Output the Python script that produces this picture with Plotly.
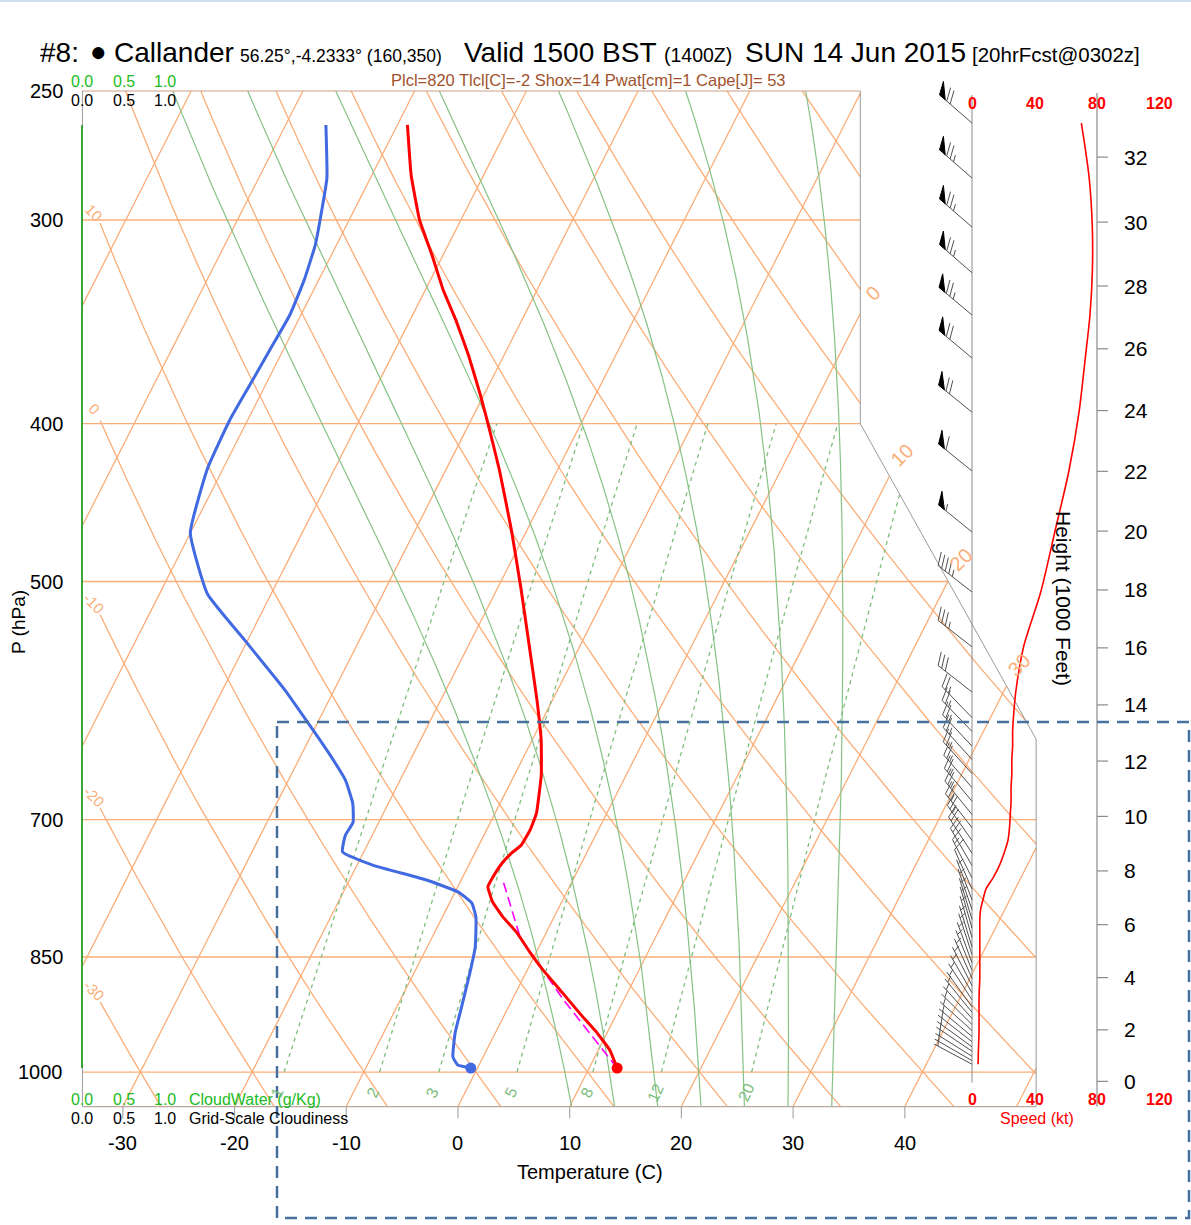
import numpy as np
import plotly.graph_objects as go

W, H = 1191, 1225
FONT = "Liberation Sans, Arial, sans-serif"

# ---------------- data ----------------
temp_p = [262.3, 281.5, 300.0, 315.2, 331.2, 345.6, 363.0, 384.2, 403.6, 427.1,
          464.9, 506.0, 550.8, 591.0, 625.5, 657.2, 693.5, 710.3, 725.5, 733.7,
          744.2, 760.1, 769.8, 786.3, 803.1, 821.5, 845.0, 865.6, 894.2, 925.0,
          946.1, 969.1, 994.4]
temp_c = [-49.1, -46.5, -43.7, -41.0, -38.4, -35.9, -33.2, -30.3, -27.9, -25.2,
          -21.4, -17.8, -14.3, -11.4, -9.2, -7.6, -6.3, -6.1, -6.2, -6.7,
          -7.1, -7.3, -7.3, -6.2, -4.6, -2.6, -0.5, 1.4, 4.2, 7.1,
          9.1, 11.0, 12.5]
dewp_p = [262.3, 282.7, 295.8, 310.8, 326.6, 343.1, 360.5, 378.8, 398.0, 425.9,
          466.9, 508.9, 543.0, 582.9, 612.5, 639.0, 662.0, 683.9, 702.6, 715.6,
          732.6, 746.4, 762.4, 775.5, 787.6, 803.3, 838.1, 869.4, 912.1, 946.2,
          979.0, 990.2, 994.4]
dewp_c = [-56.4, -53.9, -52.9, -51.9, -51.3, -51.0, -51.2, -51.4, -51.6, -51.4,
          -50.0, -45.7, -40.3, -34.4, -30.6, -27.4, -24.9, -23.2, -22.3, -22.4,
          -21.9, -18.6, -13.1, -9.7, -8.0, -7.0, -5.7, -5.0, -4.2, -3.6,
          -2.7, -1.9, -0.6]
parcel_p = [994.4, 903.0, 827.0, 762.0]
parcel_c = [12.5, 4.6, -2.1, -6.3]

wind_p = [261.6, 282.7, 303.0, 323.2, 343.1, 364.6, 393.6, 427.7, 466.2, 507.5, 548.4, 584.5,
          606, 618, 631, 643, 656, 669, 682, 695, 708,
          721, 734, 747, 760,
          772, 784, 795, 806, 816,
          827, 838, 847, 857, 866, 876, 885, 894, 903,
          912, 919, 927, 935, 943, 951, 958, 965, 971, 978, 984, 989]
wind_spd = [70, 75, 77, 77, 75.5, 72.5, 68.5, 62, 53, 44, 33, 28,
            26.5, 26, 26, 25.5, 25.5, 25, 25, 24.5, 24,
            23, 20.5, 17.5, 13.5,
            9, 7, 5.5, 5, 5,
            5, 5, 5, 5, 5, 5, 4.8, 4.6, 4.5,
            4.5, 4.5, 4.5, 4.5, 4.5, 4.4, 4.3, 4.2, 4.1, 4, 4, 3.8]
wind_dir = [311, 311, 311, 311, 310, 310, 309, 309, 309, 308, 308, 308,
            316, 316, 317, 318, 318, 319, 320, 321, 322,
            325, 327, 330, 333,
            336, 339, 341, 343, 344,
            344, 343, 342, 340, 338, 336, 333, 330, 327,
            324, 321, 318, 315, 312, 310, 308, 306, 304, 302, 300, 298]

cloud_p = [262.3, 400.0, 500.0, 700.0, 850.0, 994.4]
cloud_water = [0.0, 0.0, 0.0, 0.0, 0.0, 0.0]
cloud_frac = [0.0, 0.0, 0.0, 0.0, 0.0, 0.0]

p_ticks = [250, 300, 400, 500, 700, 850, 1000]
t_ticks = [-30, -20, -10, 0, 10, 20, 30, 40]
isotherm_vals = list(range(-70, 60, 10))
isotherm_labels = [0, 10, 20, 30]
dry_thetas = list(range(-30, 160, 10))
dry_labels = [-30, -20, -10, 0, 10]
moist_thetaw = [8, 12, 16, 20, 24, 28, 32]
mix_ratios = [1, 2, 3, 5, 8, 12, 20]
mix_labels = ["1", "2", "3", "5", "8", "12", "20"]
height_ticks = list(range(0, 33, 2))
speed_ticks = [0, 40, 80, 120]
cloud_ticks = ["0.0", "0.5", "1.0"]
cloud_tick_vals = [0.0, 0.5, 1.0]

title_parts = [("#8:", 28, 38), ("Callander", 28, 112),
               ("56.25°,-4.2333° (160,350)", 17.5, 238), ("Valid 1500 BST", 28, 462),
               ("(1400Z)", 19.5, 662), ("SUN 14 Jun 2015", 28, 743),
               ("[20hrFcst@0302z]", 20.5, 970)]
info_text = "Plcl=820 Tlcl[C]=-2 Shox=14 Pwat[cm]=1 Cape[J]= 53"

# ---------------- skew-T geometry ----------------
def yu(p):
    return 132.182 - 44.061 * np.log10(np.asarray(p, float))

def xu(t, p):
    return 0.54 * np.asarray(t, float) + 0.90692 * yu(p)

X_PX0, X_K = 475.5, 20.688
Y_PX0, Y_K = 1072.0, 36.983
XR = [(0 - X_PX0) / X_K, (W - X_PX0) / X_K]
YR = [(Y_PX0 - H) / Y_K, Y_PX0 / Y_K]
SPD_PX0, SPD_K = 972.0, 1.5625
X2R = [(0 - SPD_PX0) / SPD_K, (W - SPD_PX0) / SPD_K]
CLD_PX0, CLD_K = 82.0, 83.0
X3R = [(0 - CLD_PX0) / CLD_K, (W - CLD_PX0) / CLD_K]

Y_BOT = float(yu(1050.0))
Y_TOP = float(yu(250.0))
X_LEFT = -19.0


def x_right(y):
    y = np.asarray(y, float)
    return np.where(y <= 9.0, 27.1,
                    np.where(y >= 17.53, 18.6, 27.1 + (y - 9.0) * (18.6 - 27.1) / (17.53 - 9.0)))


def clip(x, y, xmin=X_LEFT):
    x = np.asarray(x, float)
    y = np.asarray(y, float)
    ok = (y >= Y_BOT - 1e-9) & (y <= Y_TOP + 1e-9) & (x >= xmin) & (x <= x_right(y))
    return np.where(ok, x, np.nan), np.where(ok, y, np.nan)


def tolist(a):
    return [None if (v is None or (isinstance(v, float) and np.isnan(v))) else float(v) for v in a]


def join(segs):
    X, Y = [], []
    for xs, ys in segs:
        X += tolist(np.asarray(xs, float)) + [None]
        Y += tolist(np.asarray(ys, float)) + [None]
    return X, Y


fig = go.Figure()


def add_line(X, Y, color, width, dash=None, xaxis="x", shape="linear", fill=None, fillcolor=None):
    fig.add_trace(go.Scatter(x=X, y=Y, mode="lines", xaxis=xaxis, yaxis="y",
                             line=dict(color=color, width=width, dash=dash, shape=shape),
                             fill=fill, fillcolor=fillcolor,
                             hoverinfo="skip", showlegend=False, connectgaps=False))


ORANGE = "#FBAE78"
GREEN = "#86C286"
GREEN_D = "#7DBE7D"
GREY = "#9a9a9a"

# isotherms
ys = np.linspace(Y_BOT, Y_TOP, 2500)
segs = []
for T in isotherm_vals:
    segs.append(clip(0.54 * T + 0.90692 * ys, ys))
# dry adiabats
ps = np.geomspace(1050.0, 250.0, 2500)
DRY_XMIN = (100 - X_PX0) / X_K
for th in dry_thetas:
    Tc = (th + 273.15) * (ps / 1000.0) ** 0.2857 - 273.15
    segs.append(clip(xu(Tc, ps), yu(ps), xmin=DRY_XMIN))
# isobars
for p in p_ticks[1:]:
    yy = float(yu(p))
    segs.append(([X_LEFT, float(x_right(yy))], [yy, yy]))
X, Y = join(segs)
add_line(X, Y, ORANGE, 1.3)


# moist adiabats
def dTdp(p, T):
    tc = T - 273.15
    e = 6.112 * np.exp(17.67 * tc / (tc + 243.5))
    rs = 0.622 * e / (p - e)
    Rd, cp, Lv = 287.04, 1005.7, 2.501e6
    return (Rd * T + Lv * rs) / (p * (cp + Lv * Lv * rs * 0.622 / (Rd * T * T)))


def integrate(p0, T0, p1, n):
    pp = np.linspace(p0, p1, n + 1)
    out = [T0]
    T = T0
    for i in range(n):
        h = pp[i + 1] - pp[i]
        p = pp[i]
        k1 = dTdp(p, T)
        k2 = dTdp(p + h / 2, T + h / 2 * k1)
        k3 = dTdp(p + h / 2, T + h / 2 * k2)
        k4 = dTdp(p + h, T + h * k3)
        T = T + h / 6 * (k1 + 2 * k2 + 2 * k3 + k4)
        out.append(T)
    return pp, np.array(out)


segs = []
for tw in moist_thetaw:
    pu, Tu = integrate(1000.0, tw + 273.15, 250.0, 1500)
    pdn, Tdn = integrate(1000.0, tw + 273.15, 1050.0, 100)
    pp = np.concatenate([pdn[::-1], pu[1:]])
    TT = np.concatenate([Tdn[::-1], Tu[1:]]) - 273.15
    segs.append(clip(xu(TT, pp), yu(pp)))
X, Y = join(segs)
add_line(X, Y, GREEN, 1.2)


# mixing ratio lines
def td_from_w(w, p):
    e = w * p / (622.0 + w)
    l = np.log(e / 6.112)
    return 243.5 * l / (17.67 - l)


segs = []
pm = np.geomspace(1000.0, 400.0, 600)
for w in mix_ratios:
    segs.append(clip(xu(td_from_w(w, pm), pm), yu(pm)))
X, Y = join(segs)
add_line(X, Y, GREEN_D, 1.3, dash="4px,4px")

# outline
add_line([27.1, 27.1, 18.6, 18.6], [Y_BOT, 9.0, 17.53, Y_TOP], GREY, 1)
add_line([X_LEFT, 27.1], [Y_BOT, Y_BOT], "#b9a79c", 1.2)
add_line([X_LEFT, 18.6], [Y_TOP, Y_TOP], "#c9a086", 1.2)
add_line([X_LEFT, X_LEFT], [Y_BOT, Y_TOP], GREY, 1)

# temperature ticks at bottom
segs = []
for t in t_ticks:
    xx = float(xu(t, 1050.0))
    segs.append(([xx, xx], [Y_BOT, Y_BOT - 12 / Y_K]))
X, Y = join(segs)
add_line(X, Y, "#aaaaaa", 1.2)

# cloud profiles (zero)
fig.add_trace(go.Scatter(x=cloud_frac, y=tolist(yu(cloud_p)), mode="lines", xaxis="x3", yaxis="y",
                         line=dict(color="black", width=1.5), hoverinfo="skip", showlegend=False))
fig.add_trace(go.Scatter(x=cloud_water, y=tolist(yu(cloud_p)), mode="lines", xaxis="x3", yaxis="y",
                         line=dict(color="#3CC43C", width=1.6), hoverinfo="skip", showlegend=False))

# profiles
fig.add_trace(go.Scatter(x=tolist(xu(parcel_c, parcel_p)), y=tolist(yu(parcel_p)), mode="lines",
                         line=dict(color="#FF00FF", width=1.6, dash="10px,5px"),
                         hoverinfo="skip", showlegend=False))
fig.add_trace(go.Scatter(x=tolist(xu(dewp_c, dewp_p)), y=tolist(yu(dewp_p)), mode="lines",
                         line=dict(color="#4169E1", width=3, shape="spline", smoothing=0.4),
                         hoverinfo="skip", showlegend=False))
fig.add_trace(go.Scatter(x=tolist(xu(temp_c, temp_p)), y=tolist(yu(temp_p)), mode="lines",
                         line=dict(color="#FF0000", width=3, shape="spline", smoothing=0.3),
                         hoverinfo="skip", showlegend=False))
fig.add_trace(go.Scatter(x=[float(xu(dewp_c[-1], dewp_p[-1]))], y=[float(yu(dewp_p[-1]))], mode="markers",
                         marker=dict(color="#4169E1", size=11), hoverinfo="skip", showlegend=False))
fig.add_trace(go.Scatter(x=[float(xu(temp_c[-1], temp_p[-1]))], y=[float(yu(temp_p[-1]))], mode="markers",
                         marker=dict(color="#FF0000", size=11), hoverinfo="skip", showlegend=False))

# ---------------- right panel: speed / height / barbs ----------------
add_line([0, 0], [float(yu(1015.0)), Y_TOP - 4 / Y_K], "#8a8a8a", 1, xaxis="x2")
add_line([80, 80], [Y_BOT, Y_TOP - 2 / Y_K], "#8a8a8a", 1.2, xaxis="x2")


def std_p(kft):
    h = kft * 1000 * 0.3048
    return 1013.25 * (1 - 2.25577e-5 * h) ** 5.25588


segs = []
for hk in height_ticks:
    yy = float(yu(std_p(hk)))
    segs.append(([80, 80 + 11 / SPD_K], [yy, yy]))
X, Y = join(segs)
add_line(X, Y, "#8a8a8a", 1.2, xaxis="x2")

L_SHAFT, FEATH, SPACE, FLAGW = 43.0, 14.0, 4.5, 7.5


def barb(spd, dirn):
    a = np.deg2rad(dirn)
    d = np.array([np.sin(a), -np.cos(a)])
    f = np.array([-d[1], d[0]])
    t = np.deg2rad(25)
    fv = np.cos(t) * f + np.sin(t) * d
    lines = [[np.zeros(2), L_SHAFT * d]]
    flags = []
    r = int(5 * round(spd / 5.0))
    nflag, r = divmod(r, 50)
    nfull, r = divmod(r, 10)
    nhalf = r // 5
    pos = L_SHAFT
    for _ in range(nflag):
        flags.append([pos * d, (pos - FLAGW) * d, pos * d + FEATH * fv])
        pos -= FLAGW + 2.0
    if nflag == 0 and nfull == 0 and nhalf:
        pos -= SPACE
    for _ in range(nfull):
        lines.append([pos * d, pos * d + FEATH * fv])
        pos -= SPACE
    if nhalf:
        lines.append([pos * d, pos * d + 0.5 * FEATH * fv])
    return lines, flags


bl, bf = [], []
for p, s, dd in zip(wind_p, wind_spd, wind_dir):
    y0 = float(yu(p))
    lines, flags = barb(s, dd)
    for a, b in lines:
        bl.append(([a[0] / SPD_K, b[0] / SPD_K], [y0 - a[1] / Y_K, y0 - b[1] / Y_K]))
    for tri in flags:
        bf.append(([v[0] / SPD_K for v in tri] + [tri[0][0] / SPD_K],
                   [y0 - v[1] / Y_K for v in tri] + [y0 - tri[0][1] / Y_K]))
X, Y = join(bl)
add_line(X, Y, "#505050", 1, xaxis="x2")
X, Y = join(bf)
add_line(X, Y, "black", 1, xaxis="x2", fill="toself", fillcolor="black")

# speed profile
fig.add_trace(go.Scatter(x=wind_spd, y=tolist(yu(wind_p)), mode="lines", xaxis="x2", yaxis="y",
                         line=dict(color="#FF0000", width=1.6, shape="spline", smoothing=0.8),
                         hoverinfo="skip", showlegend=False))

# ---------------- text ----------------
ann = []


def ptxt(px, py, s, size, color="black", xa="center", angle=0):
    ann.append(dict(x=px / W, y=1 - py / H, xref="paper", yref="paper", text=s, showarrow=False,
                    xanchor=xa, yanchor="middle", textangle=angle,
                    font=dict(family=FONT, size=size, color=color)))


# title (baseline aligned)
BASE = 62.0
for s, sz, px in title_parts:
    ptxt(px, BASE - 0.3465 * sz, s, sz, xa="left")
ptxt(98, 52, "●", 28)
ptxt(588, 80, info_text, 16.5, color="#A0522D")

# pressure labels
for p in p_ticks:
    ann.append(dict(x=65 / W, y=float(yu(p)), xref="paper", yref="y", text=str(p), showarrow=False,
                    xanchor="right", yanchor="middle", font=dict(family=FONT, size=20, color="black")))
ptxt(18, 622, "P (hPa)", 19, angle=-90)

# temperature labels
for t in t_ticks:
    ann.append(dict(x=float(xu(t, 1050.0)), y=1 - 1143 / H, xref="x", yref="paper", text=str(t),
                    showarrow=False, xanchor="center", yanchor="middle",
                    font=dict(family=FONT, size=20, color="black")))
ptxt(590, 1172, "Temperature (C)", 20)

# cloud axis labels
for lab, v in zip(cloud_ticks, cloud_tick_vals):
    px = CLD_PX0 + CLD_K * v
    ptxt(px, 81, lab, 16, color="#22BB22")
    ptxt(px, 101, lab, 16)
    ptxt(px, 1099, lab, 16, color="#22BB22")
    ptxt(px, 1118, lab, 16)
ptxt(187, 1099, "CloudWater (g/Kg)", 16, color="#22BB22", xa="left")
ptxt(187, 1118, "Grid-Scale Cloudiness", 16, xa="left")

# speed axis labels
for v in speed_ticks:
    px = SPD_PX0 + SPD_K * v
    ptxt(px, 103, "<b>%d</b>" % v, 16, color="#FF0000")
    ptxt(px, 1099, "<b>%d</b>" % v, 16, color="#FF0000")
ptxt(1037, 1118, "Speed (kt)", 16, color="#FF0000")

# height labels
for hk in height_ticks:
    ann.append(dict(x=1122 / W, y=float(yu(std_p(hk))), xref="paper", yref="y", text=str(hk),
                    showarrow=False, xanchor="left", yanchor="middle",
                    font=dict(family=FONT, size=21, color="black")))
ptxt(1064, 598, "Height (1000 Feet)", 21, angle=90)

# isotherm labels
yy = np.linspace(Y_BOT, Y_TOP, 20000)
for T in isotherm_labels:
    diff = 0.54 * T + 0.90692 * yy - x_right(yy)
    i = int(np.argmax(diff >= 0))
    px = X_PX0 + X_K * (0.54 * T + 0.90692 * yy[i])
    py = Y_PX0 - Y_K * yy[i]
    ptxt(px + 12.5, py - 21, str(T), 20, color=ORANGE, angle=-45)

# dry adiabat labels
pp = np.geomspace(1050.0, 250.0, 20000)
for th in dry_labels:
    Tc = (th + 273.15) * (pp / 1000.0) ** 0.2857 - 273.15
    xx = xu(Tc, pp)
    i = int(np.argmax(xx <= DRY_XMIN))
    py = Y_PX0 - Y_K * float(yu(pp[i]))
    ptxt(100 - 6, py - 11, str(th), 15, color=ORANGE, angle=45)

# mixing ratio labels
for w, lab in zip(mix_ratios, mix_labels):
    xx = float(xu(td_from_w(w, 1030.0), 1030.0))
    ann.append(dict(x=xx, y=float(yu(1030.0)), xref="x", yref="y", text=lab, showarrow=False,
                    xanchor="center", yanchor="middle", textangle=-65,
                    font=dict(family=FONT, size=16, color=GREEN_D)))

shapes = [
    dict(type="rect", xref="paper", yref="paper", x0=277 / W, x1=1189 / W, y0=1 - 722 / H, y1=1 - 1218 / H,
         line=dict(color="#47709F", width=2.5, dash="12px,8px"), fillcolor="rgba(0,0,0,0)", layer="above"),
    dict(type="line", xref="paper", yref="paper", x0=0, x1=1, y0=1 - 1 / H, y1=1 - 1 / H,
         line=dict(color="#cfe0f0", width=2)),
]

ax = dict(visible=False, showgrid=False, zeroline=False, fixedrange=True)
fig.update_layout(
    width=W, height=H, autosize=False,
    margin=dict(l=0, r=0, t=0, b=0, pad=0),
    paper_bgcolor="white", plot_bgcolor="white",
    showlegend=False,
    xaxis=dict(range=XR, domain=[0, 1], **ax),
    yaxis=dict(range=YR, domain=[0, 1], **ax),
    xaxis2=dict(range=X2R, overlaying="x", anchor="y", **ax),
    xaxis3=dict(range=X3R, overlaying="x", anchor="y", **ax),
    annotations=ann,
    shapes=shapes,
    font=dict(family=FONT),
)

fig.write_html("out.html")
